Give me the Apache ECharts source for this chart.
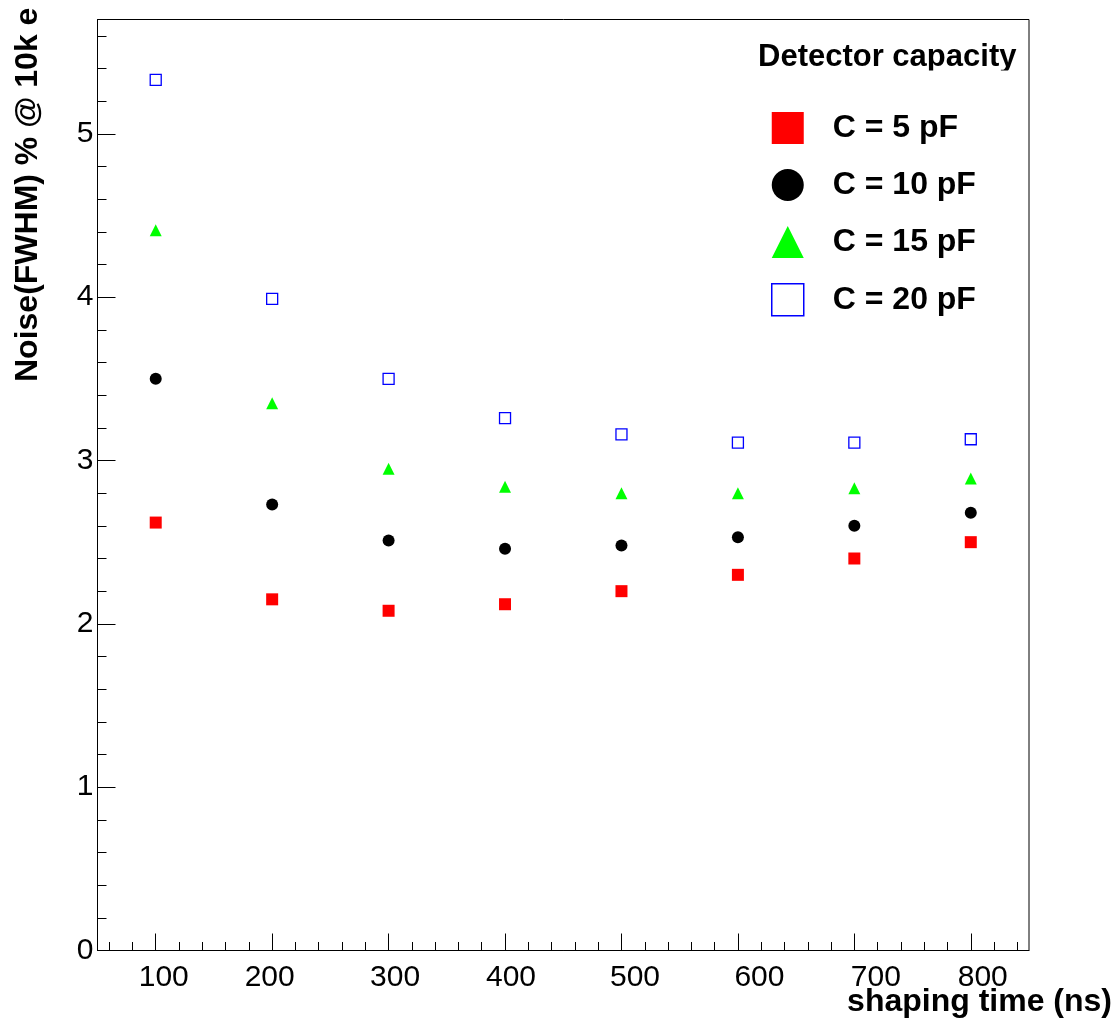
<!DOCTYPE html>
<html>
<head>
<meta charset="utf-8">
<script src="https://cdn.jsdelivr.net/npm/echarts@6/dist/echarts.min.js"></script>
<style>
html,body{margin:0;padding:0;background:#fff;}
#chart{width:1118px;height:1027px;}
</style>
</head>
<body>
<div id="chart"></div>
<script>
// ---- data ----
const shapingTimes = [100, 200, 300, 400, 500, 600, 700, 800];
const noise5pF  = [2.62, 2.15, 2.08, 2.12, 2.20, 2.30, 2.40, 2.50];
const noise10pF = [3.50, 2.73, 2.51, 2.46, 2.48, 2.53, 2.60, 2.68];
const noise15pF = [4.41, 3.35, 2.95, 2.84, 2.80, 2.80, 2.83, 2.89];
const noise20pF = [5.33, 3.99, 3.50, 3.26, 3.16, 3.11, 3.11, 3.13];
const seriesNames = ['C = 5 pF', 'C = 10 pF', 'C = 15 pF', 'C = 20 pF'];

const xTickLabels = [100, 200, 300, 400, 500, 600, 700, 800];
const xMinorTicks = [60, 80, 120, 140, 160, 180, 220, 240, 260, 280, 320, 340, 360, 380,
  420, 440, 460, 480, 520, 540, 560, 580, 620, 640, 660, 680, 720, 740, 760, 780, 820, 840];
const yTickLabels = [0, 1, 2, 3, 4, 5];
const yMinorTicks = [0.2, 0.4, 0.6, 0.8, 1.2, 1.4, 1.6, 1.8, 2.2, 2.4, 2.6, 2.8,
  3.2, 3.4, 3.6, 3.8, 4.2, 4.4, 4.6, 4.8, 5.2, 5.4, 5.6];

// ---- styling (label horizontal shifts as in the reference) ----
const FONT = 'Liberation Sans, Arial, Helvetica, sans-serif';
const labelShift = [8, -2.5, 6.5, 6, 13.5, 21.5, 21.5, 12];
const rich = {};
labelShift.forEach(function (s, i) {
  rich['s' + i] = {
    fontSize: 30, color: '#000', fontFamily: FONT,
    padding: s >= 0 ? [0, 0, 0, 2 * s] : [0, -2 * s, 0, 0]
  };
});

function pts(ys) { return shapingTimes.map(function (x, i) { return [x, ys[i]]; }); }

const chart = echarts.init(document.getElementById('chart'), null, {renderer: 'canvas'});

chart.setOption({
  backgroundColor: '#fff',
  animation: false,
  grid: {left: 97.5, top: 19.5, width: 931.5, height: 931, show: true,
         borderColor: '#000', borderWidth: 1, backgroundColor: 'transparent'},
  xAxis: [{
    type: 'value', min: 50, max: 850, position: 'bottom',
    axisLine: {show: true, lineStyle: {color: '#000', width: 1}},
    axisTick: {show: true, inside: true, length: 17, customValues: xTickLabels, lineStyle: {color: '#000', width: 1}},
    axisLabel: {show: true, customValues: xTickLabels, margin: 12, fontSize: 30, color: '#000', fontFamily: FONT,
      formatter: function (v) { const i = xTickLabels.indexOf(v); return '{s' + i + '|' + v + '}'; },
      rich: rich},
    splitLine: {show: false}
  }, {
    type: 'value', min: 50, max: 850, position: 'bottom',
    axisLine: {show: false},
    axisTick: {show: true, inside: true, length: 8.5, customValues: xMinorTicks, lineStyle: {color: '#000', width: 1}},
    axisLabel: {show: false},
    splitLine: {show: false}
  }],
  yAxis: [{
    type: 'value', min: 0, max: 5.7, position: 'left',
    axisLine: {show: true, lineStyle: {color: '#000', width: 1}},
    axisTick: {show: true, inside: true, length: 18, customValues: yTickLabels, lineStyle: {color: '#000', width: 1}},
    axisLabel: {show: true, customValues: yTickLabels, margin: 4, fontSize: 30, color: '#000', fontFamily: FONT},
    splitLine: {show: false}
  }, {
    type: 'value', min: 0, max: 5.7, position: 'left',
    axisLine: {show: false},
    axisTick: {show: true, inside: true, length: 9, customValues: yMinorTicks, lineStyle: {color: '#000', width: 1}},
    axisLabel: {show: false},
    splitLine: {show: false}
  }],
  legend: {
    orient: 'vertical', left: 766, top: 107,
    itemWidth: 32, itemHeight: 32, itemGap: 25,
    textStyle: {fontSize: 32, fontWeight: 'bold', color: '#000', fontFamily: FONT, padding: [0, 0, 0, 24]},
    data: [
      {name: seriesNames[0], icon: 'rect', itemStyle: {color: '#ff0000', opacity: 1}},
      {name: seriesNames[1], icon: 'circle', itemStyle: {color: '#000000', opacity: 1}},
      {name: seriesNames[2], icon: 'triangle', itemStyle: {color: '#00ff00', opacity: 1}},
      {name: seriesNames[3], icon: 'rect', itemStyle: {color: '#ffffff', borderColor: '#0000ff', borderWidth: 1.5, opacity: 1}}
    ]
  },
  graphic: [
    {type: 'text', x: 758, y: 57.5, z: 10,
     style: {text: 'Detector capacity', font: 'bold 31px ' + FONT, fill: '#000', align: 'left', verticalAlign: 'middle'}},
    {type: 'rect', shape: {x: 750, y: 70.5, width: 276, height: 10}, z: 11,
     style: {fill: '#fff'}},
    {type: 'text', x: 1112, y: 1002, z: 10,
     style: {text: 'shaping time (ns)', font: 'bold 32px ' + FONT, fill: '#000', align: 'right', verticalAlign: 'middle'}},
    {type: 'text', x: 28, y: 382, rotation: Math.PI / 2, z: 10,
     style: {text: 'Noise(FWHM) % @ 10k e', font: 'bold 32px ' + FONT, fill: '#000', align: 'left', verticalAlign: 'middle'}}
  ],
  series: [
    {name: seriesNames[0], type: 'scatter', symbol: 'rect', symbolSize: 12,
     itemStyle: {color: '#ff0000', opacity: 1}, data: pts(noise5pF)},
    {name: seriesNames[1], type: 'scatter', symbol: 'circle', symbolSize: 12,
     itemStyle: {color: '#000000', opacity: 1}, data: pts(noise10pF)},
    {name: seriesNames[2], type: 'scatter', symbol: 'triangle', symbolSize: 12,
     itemStyle: {color: '#00ff00', opacity: 1}, data: pts(noise15pF)},
    {name: seriesNames[3], type: 'scatter', symbol: 'rect', symbolSize: 11,
     itemStyle: {color: 'rgba(255,255,255,0)', borderColor: '#0000ff', borderWidth: 1.3, opacity: 1}, data: pts(noise20pF)}
  ]
});
</script>
</body>
</html>
